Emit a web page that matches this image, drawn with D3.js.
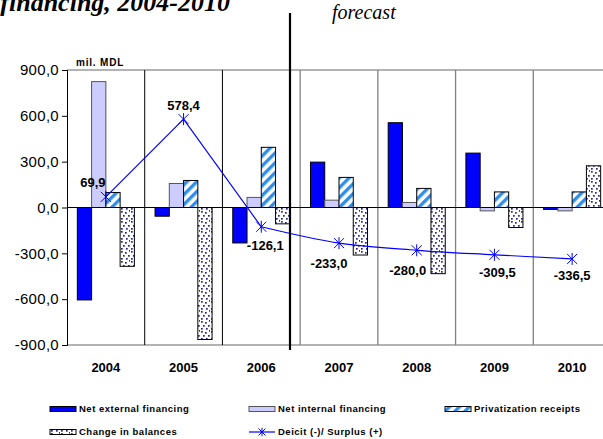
<!DOCTYPE html>
<html>
<head>
<meta charset="utf-8">
<script src="https://cdn.jsdelivr.net/npm/d3@7"></script>
<style>
  html, body { margin: 0; padding: 0; background: #fff; }
  svg { display: block; }
</style>
</head>
<body>
<svg id="chart" width="603" height="439"></svg>
<script>
// Budget financing sources and balance, mil. MDL
const years = ["2004", "2005", "2006", "2007", "2008", "2009", "2010"];
const netExternal   = [-605, -57, -232, 297, 555, 356, -13];
const netInternal   = [824, 157, 66, 48, 33, -22, -22];
const privatization = [98, 177, 394, 197, 125, 102, 102];
const changeBalance = [-385, -864, -107, -311, -433, -131, 273];
const deficit       = [69.9, 578.4, -126.1, -233.0, -280.0, -309.5, -336.5];
const yTicks = [900, 600, 300, 0, -300, -600, -900];
const forecastFrom = "2006";

const seriesNames = ["Net external financing", "Net internal financing",
                     "Privatization receipts", "Change in balances"];
const lineName = "Deicit (-)/ Surplus (+)";

// one decimal, comma separator, plain hyphen for negatives
const fmt = v => d3.format(".1f")(v).replace(".", ",").replace("\u2212", "-");

const svg = d3.select("#chart");
const defs = svg.append("defs");

// hatched fill: upward diagonal stripes
const hatch = defs.append("pattern").attr("id", "hatch")
  .attr("patternUnits", "userSpaceOnUse").attr("width", 7).attr("height", 7)
  .attr("patternTransform", "rotate(45)");
hatch.append("rect").attr("width", 7).attr("height", 7).attr("fill", "#fff");
hatch.append("rect").attr("width", 3.4).attr("height", 7).attr("fill", "#2f8fe8");

// dotted fill: scattered navy dots
const dots = defs.append("pattern").attr("id", "dots")
  .attr("patternUnits", "userSpaceOnUse").attr("width", 10).attr("height", 10);
dots.append("rect").attr("width", 10).attr("height", 10).attr("fill", "#fff");
[[1,1],[5,2],[8,5],[3,5],[6,8],[1,8],[9,0]].forEach(([px, py]) =>
  dots.append("rect").attr("x", px).attr("y", py).attr("width", 1.7).attr("height", 1.7)
    .attr("fill", "#28288f"));

const fills = ["#0000ff", "#ccccff", "url(#hatch)", "url(#dots)"];
const strokes = ["#000", "#555", "#000", "#000"];

const plotL = 67, plotR = 611, plotT = 70, plotB = 345;

const x = d3.scaleBand().domain(years).range([plotL, plotR]).paddingInner(0).paddingOuter(0);
const y = d3.scaleLinear().domain([-900, 900]).range([plotB, plotT]);
const xi = d3.scaleBand().domain(d3.range(4))
  .range([x.bandwidth() * 0.133, x.bandwidth() * 0.867]).padding(0);

// frame
svg.append("line").attr("x1", plotL).attr("x2", 603).attr("y1", plotT).attr("y2", plotT)
  .attr("stroke", "#9a9a9a").attr("stroke-width", 1.5);
svg.append("line").attr("x1", plotL).attr("x2", 603).attr("y1", plotB).attr("y2", plotB)
  .attr("stroke", "#9a9a9a").attr("stroke-width", 1.5);

// category separators
years.slice(1).forEach((yr, i) => {
  svg.append("line").attr("x1", x(yr)).attr("x2", x(yr)).attr("y1", plotT).attr("y2", plotB)
    .attr("stroke", i < 2 ? "#000" : "#808080").attr("stroke-width", i < 2 ? 1 : 1.3);
});

// bars
const seriesData = [netExternal, netInternal, privatization, changeBalance];
seriesData.forEach((vals, s) => {
  svg.append("g").selectAll("rect").data(vals).join("rect")
    .attr("x", (d, i) => x(years[i]) + xi(s))
    .attr("width", xi.bandwidth())
    .attr("y", d => y(Math.max(0, d)))
    .attr("height", d => Math.abs(y(d) - y(0)))
    .attr("fill", fills[s])
    .attr("stroke", strokes[s]).attr("stroke-width", 1);
});

// zero line
svg.append("line").attr("x1", plotL).attr("x2", 603).attr("y1", y(0)).attr("y2", y(0))
  .attr("stroke", "#000").attr("stroke-width", 1.2);

// y axis
const yAxis = d3.axisLeft(y).tickValues(yTicks).tickFormat(fmt).tickSize(5).tickPadding(3);
const ga = svg.append("g").attr("transform", `translate(${plotL},0)`).call(yAxis);
ga.select(".domain").attr("stroke", "#000");
ga.selectAll(".tick line").attr("stroke", "#000");
ga.selectAll("text").attr("font-family", "Liberation Sans, Arial, sans-serif")
  .attr("font-size", 15).attr("fill", "#000").attr("letter-spacing", 0.3);

// category labels
svg.append("g").selectAll("text").data(years).join("text")
  .attr("x", d => x(d) + x.bandwidth() / 2).attr("y", 372)
  .attr("text-anchor", "middle")
  .attr("font-family", "Liberation Sans, Arial, sans-serif")
  .attr("font-size", 13).attr("font-weight", "bold").text(d => d);

// deficit line: actual years straight, forecast years smoothed
const pts = deficit.map((d, i) => [x(years[i]) + x.bandwidth() / 2, y(d)]);
const k = years.indexOf(forecastFrom);
svg.append("path").attr("d", d3.line().curve(d3.curveLinear)(pts.slice(0, k + 1)))
  .attr("fill", "none").attr("stroke", "#0000ff").attr("stroke-width", 1.2);
svg.append("path").attr("d", d3.line().curve(d3.curveCatmullRom)(pts.slice(k)))
  .attr("fill", "none").attr("stroke", "#0000ff").attr("stroke-width", 1.2);

function star(g, cx, cy, r) {
  const s = g.append("g").attr("transform", `translate(${cx},${cy})`)
    .attr("stroke", "#0000ff").attr("stroke-width", 1);
  s.append("line").attr("x1", -r).attr("y1", -r).attr("x2", r).attr("y2", r);
  s.append("line").attr("x1", -r).attr("y1", r).attr("x2", r).attr("y2", -r);
  s.append("line").attr("x1", 0).attr("y1", -r * 1.2).attr("x2", 0).attr("y2", r * 1.2);
}
const markers = svg.append("g");
pts.forEach(p => star(markers, p[0], p[1], 5));

// value labels, nudged off the markers
const nudge = [[-13, -14], [0, -14], [4, 19], [-10, 20], [-9, 20], [3, 18], [0, 17]];
svg.append("g").selectAll("text").data(deficit).join("text")
  .attr("x", (d, i) => pts[i][0] + nudge[i][0])
  .attr("y", (d, i) => pts[i][1] + nudge[i][1])
  .attr("dy", "0.35em").attr("text-anchor", "middle")
  .attr("font-family", "Liberation Sans, Arial, sans-serif")
  .attr("font-size", 13).attr("font-weight", "bold").text(fmt);

// units
svg.append("text").attr("x", 76).attr("y", 66)
  .attr("font-family", "Liberation Sans, Arial, sans-serif")
  .attr("font-size", 10).attr("font-weight", "bold").attr("letter-spacing", 0.8)
  .text("mil. MDL");

// title and forecast divider
svg.append("text").attr("x", 230).attr("y", 11).attr("text-anchor", "end")
  .attr("font-family", "Liberation Serif, Times New Roman, serif")
  .attr("font-size", 26).attr("font-weight", "bold").attr("font-style", "italic")
  .text("financing, 2004-2010");
svg.append("text").attr("x", 332).attr("y", 19)
  .attr("font-family", "Liberation Serif, Times New Roman, serif")
  .attr("font-size", 20).attr("font-style", "italic").text("forecast");
svg.append("line").attr("x1", 290).attr("x2", 290).attr("y1", 13).attr("y2", 350)
  .attr("stroke", "#000").attr("stroke-width", 2.2);

// legend
const legendItems = [
  { name: seriesNames[0], s: 0, x: 50, y: 409 },
  { name: seriesNames[1], s: 1, x: 249, y: 409 },
  { name: seriesNames[2], s: 2, x: 445, y: 409 },
  { name: seriesNames[3], s: 3, x: 50, y: 432 },
  { name: lineName, s: -1, x: 249, y: 432 }
];
const lg = svg.append("g");
legendItems.forEach(it => {
  const g = lg.append("g").attr("transform", `translate(${it.x},${it.y})`);
  if (it.s >= 0) {
    g.append("rect").attr("x", 0).attr("y", -2.5).attr("width", 26).attr("height", 5)
      .attr("fill", fills[it.s]).attr("stroke", strokes[it.s]).attr("stroke-width", 1);
  } else {
    g.append("line").attr("x1", 0).attr("x2", 26).attr("y1", 0).attr("y2", 0)
      .attr("stroke", "#0000ff").attr("stroke-width", 1.2);
    star(g, 13, 0, 3.5);
  }
  g.append("text").attr("x", 29).attr("y", 0).attr("dy", "0.35em")
    .attr("font-family", "Liberation Sans, Arial, sans-serif")
    .attr("font-size", 9.5).attr("font-weight", "bold").attr("letter-spacing", 0.5)
    .text(it.name);
});
</script>
</body>
</html>
